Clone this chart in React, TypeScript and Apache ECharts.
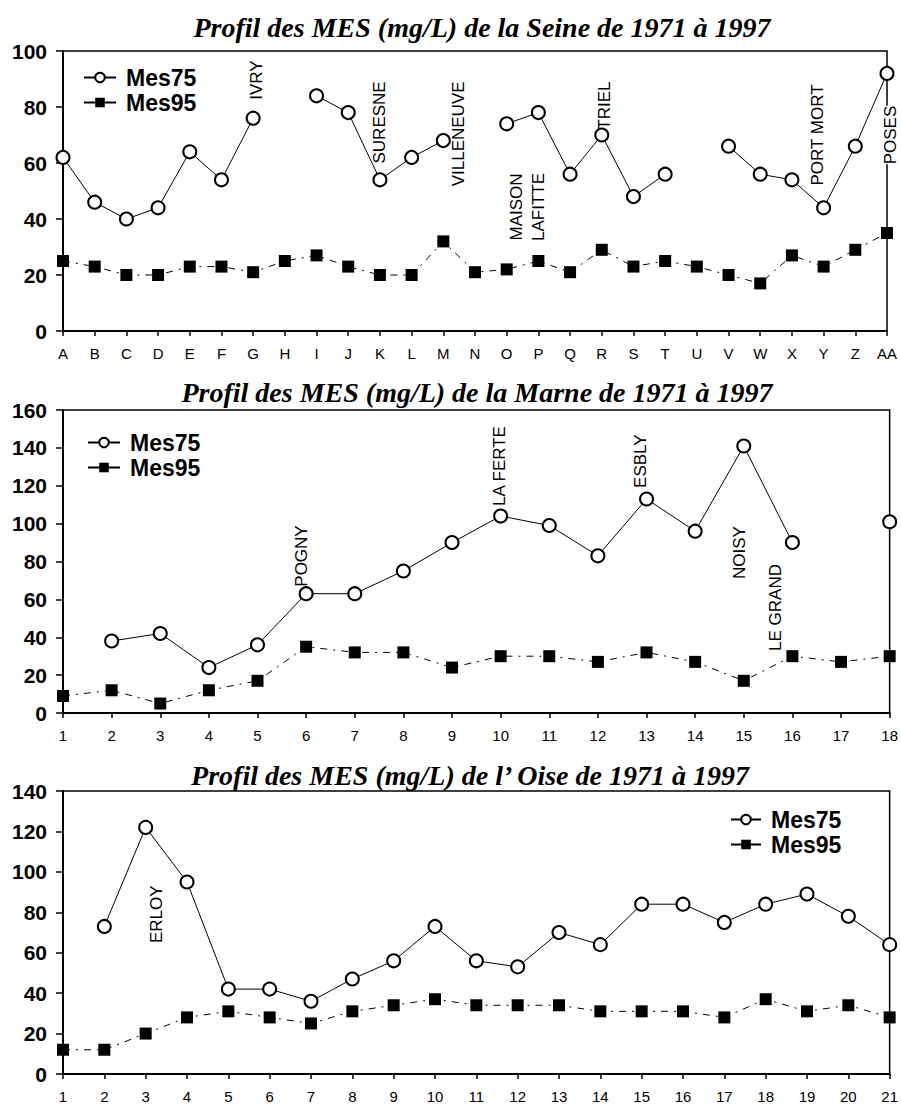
import React, { useEffect, useRef } from "react";
import * as echarts from "echarts";

// ---------- data ----------
const seineCategories = ["A","B","C","D","E","F","G","H","I","J","K","L","M","N","O","P","Q","R","S","T","U","V","W","X","Y","Z","AA"];
const seineMes75 = [62,46,40,44,64,54,76,null,84,78,54,62,68,null,74,78,56,70,48,56,null,66,56,54,44,66,92];
const seineMes95 = [25,23,20,20,23,23,21,25,27,23,20,20,32,21,22,25,21,29,23,25,23,20,17,27,23,29,35];

const marneCategories = ["1","2","3","4","5","6","7","8","9","10","11","12","13","14","15","16","17","18"];
const marneMes75 = [null,38,42,24,36,63,63,75,90,104,99,83,113,96,141,90,null,101];
const marneMes95 = [9,12,5,12,17,35,32,32,24,30,30,27,32,27,17,30,27,30];

const oiseCategories = ["1","2","3","4","5","6","7","8","9","10","11","12","13","14","15","16","17","18","19","20","21"];
const oiseMes75 = [null,73,122,95,42,42,36,47,56,73,56,53,70,64,84,84,75,84,89,78,64];
const oiseMes95 = [12,12,20,28,31,28,25,31,34,37,34,34,34,31,31,31,28,37,31,34,28];

const seineTitle = "Profil des MES (mg/L) de la Seine de 1971 à 1997";
const marneTitle = "Profil des MES (mg/L) de la Marne de 1971 à 1997";
const oiseTitle = "Profil des MES (mg/L) de l\u2019 Oise de 1971 à 1997";

// station names: [text, category, value at label centre]
const seineStations: [string, string, number][] = [
  ["IVRY", "G", 89.6],
  ["SURESNE", "K", 74.5],
  ["VILLENEUVE", "M", 70.4],
  ["MAISON\nLAFITTE", "O", 44.3],
  ["TRIEL", "R", 80.5],
  ["PORT MORT", "Y", 70],
  ["POSES", "AA", 70],
];
const seineStationShift = [3, 0, 15, 21, 3, -6, 3];

const marneStations: [string, string, number][] = [
  ["POGNY", "6", 82.9],
  ["LA FERTE", "10", 130.4],
  ["ESBLY", "13", 133],
  ["NOISY", "15", 84.7],
  ["LE GRAND", "16", 55.7],
];
const marneStationShift = [-5, -1, -6, -4, -17];

const oiseStations: [string, string, number][] = [["ERLOY", "3", 79]];
const oiseStationShift = [11];

const legendNames = ["Mes75", "Mes95"];

// ---------- helpers ----------
const sans = "Arial, 'Liberation Sans', sans-serif";

function stationMarks(list: [string, string, number][], shifts: number[]) {
  return {
    symbol: "circle",
    symbolSize: 1,
    silent: true,
    itemStyle: { color: "rgba(0,0,0,0)" },
    label: {
      show: true,
      position: "inside",
      rotate: 90,
      color: "#000",
      fontFamily: sans,
      fontSize: 17,
      lineHeight: 22,
    },
    data: list.map(([text, cat, val], i) => ({
      coord: [cat, val],
      label: {
        formatter: text,
        // label is rotated 90°, so the local y offset moves it horizontally
        offset: [0, shifts[i]],
        backgroundColor: text === "POSES" ? "#fff" : "transparent",
      },
    })),
  };
}

function mes75Series(data: (number | null)[], idx: number, marks: any) {
  return {
    type: "line",
    name: legendNames[0],
    xAxisIndex: idx,
    yAxisIndex: idx,
    data,
    symbol: "emptyCircle",
    symbolSize: 13,
    showAllSymbol: true,
    connectNulls: false,
    itemStyle: { color: "#000", borderColor: "#000", borderWidth: 1.6 },
    lineStyle: { color: "#000", width: 1, type: "solid" },
    markPoint: marks,
    z: 3,
  };
}

function mes95Series(data: (number | null)[], idx: number) {
  return {
    type: "line",
    name: legendNames[1],
    xAxisIndex: idx,
    yAxisIndex: idx,
    data,
    symbol: "rect",
    symbolSize: 12,
    showAllSymbol: true,
    itemStyle: { color: "#000" },
    lineStyle: { color: "#000", width: 1, type: [7, 6, 2, 6] },
    z: 2,
  };
}

function xAxisFor(cats: string[], idx: number) {
  return {
    type: "category",
    gridIndex: idx,
    data: cats,
    boundaryGap: false,
    axisLine: { show: true, lineStyle: { color: "#000", width: 2 } },
    axisTick: { show: true, length: 5, alignWithLabel: true, interval: 0, lineStyle: { color: "#000", width: 1.5 } },
    axisLabel: { interval: 0, color: "#000", fontFamily: sans, fontSize: 15, margin: 15 },
    splitLine: { show: false },
  };
}

function yAxisFor(max: number, idx: number) {
  return {
    type: "value",
    gridIndex: idx,
    min: 0,
    max,
    interval: 20,
    axisLine: { show: true, lineStyle: { color: "#000", width: 2 } },
    axisTick: { show: true, length: 7, lineStyle: { color: "#000", width: 1.5 } },
    axisLabel: { color: "#000", fontFamily: sans, fontSize: 21, fontWeight: "bold", margin: 16 },
    splitLine: { show: false },
  };
}

function legendAt(left: number, top: number, iconWidth: number) {
  return {
    orient: "vertical",
    left,
    top,
    padding: 0,
    itemGap: 0,
    itemWidth: iconWidth,
    itemHeight: 12,
    selectedMode: false,
    data: [
      { name: legendNames[0] },
      { name: legendNames[1], lineStyle: { type: "solid" } },
    ],
    textStyle: {
      color: "#000",
      fontFamily: sans,
      fontSize: 23,
      fontWeight: "bold",
      lineHeight: 25,
      padding: [0, 0, 0, 5],
    },
  };
}

function titleText(text: string, x: number, y: number) {
  return {
    type: "text",
    x,
    y,
    style: {
      text,
      fill: "#000",
      font: "italic bold 28px 'Liberation Serif', 'Times New Roman', serif",
      textAlign: "center",
      textVerticalAlign: "middle",
      align: "center",
      verticalAlign: "middle",
    },
  };
}

export default function App() {
  const ref = useRef<HTMLDivElement>(null);

  useEffect(() => {
    document.body.style.margin = "0";
    if (!ref.current) return;
    const chart = echarts.init(ref.current, null, { renderer: "svg" });
    const gridStyle = { show: true, borderColor: "#000", borderWidth: 1.5, backgroundColor: "transparent" };
    chart.setOption({
      animation: false,
      backgroundColor: "#fff",
      grid: [
        { ...gridStyle, left: 63, top: 51, width: 824, height: 280 },
        { ...gridStyle, left: 63, top: 410, width: 829, height: 303 },
        { ...gridStyle, left: 63, top: 791, width: 827, height: 287 },
      ],
      xAxis: [
        xAxisFor(seineCategories, 0),
        xAxisFor(marneCategories, 1),
        xAxisFor(oiseCategories, 2),
      ],
      yAxis: [yAxisFor(100, 0), yAxisFor(160, 1), yAxisFor(140, 2)],
      legend: [legendAt(83, 65, 32), legendAt(87, 430, 32), legendAt(730, 807, 30)],
      series: [
        mes75Series(seineMes75, 0, stationMarks(seineStations, seineStationShift)),
        mes95Series(seineMes95, 0),
        mes75Series(marneMes75, 1, stationMarks(marneStations, marneStationShift)),
        mes95Series(marneMes95, 1),
        mes75Series(oiseMes75, 2, stationMarks(oiseStations, oiseStationShift)),
        mes95Series(oiseMes95, 2),
      ],
      graphic: [
        titleText(seineTitle, 482, 27),
        titleText(marneTitle, 477, 392),
        titleText(oiseTitle, 470, 775),
      ],
    });
    return () => chart.dispose();
  }, []);

  return <div ref={ref} style={{ width: 901, height: 1104 }} />;
}
